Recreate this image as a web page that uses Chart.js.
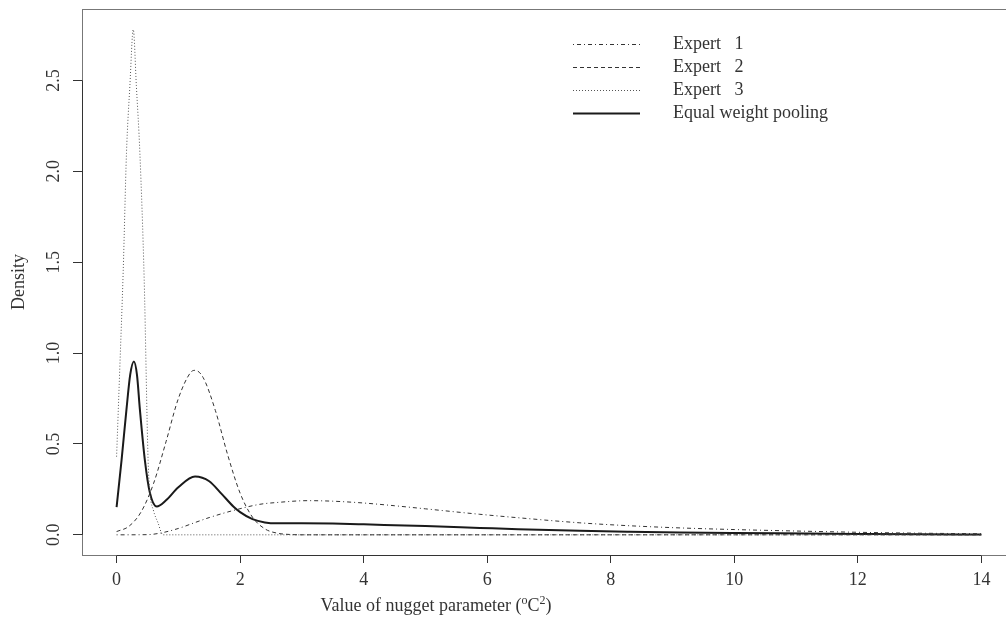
<!DOCTYPE html>
<html>
<head>
<meta charset="utf-8">
<title>Nugget parameter densities</title>
<script src="https://cdn.jsdelivr.net/npm/chart.js@4.4.1/dist/chart.umd.min.js"></script>
<style>
  html, body { margin: 0; padding: 0; background: #fff; overflow: hidden; }
  #wrap { width: 1006px; height: 628px; overflow: hidden; }
</style>
</head>
<body>
<div id="wrap">
  <canvas id="densityChart" width="1040" height="628"></canvas>
</div>
<script>
// Axis ticks
const xTicks = [0, 2, 4, 6, 8, 10, 12, 14];
const yTicks = [0, 0.5, 1, 1.5, 2, 2.5];

// Expert 1 (dot-dash)
const expert1X = [0, 0.5, 0.7, 1.0, 1.24, 1.5, 1.89, 2.32, 2.6, 3.1, 3.5, 4.0, 4.5, 5.0, 5.88, 6.5, 7.5, 8.3, 9.12, 10.0, 10.73, 12, 13, 14];
const expert1Y = [0, 0.001, 0.009, 0.035, 0.064, 0.095, 0.134, 0.168, 0.178, 0.188, 0.185, 0.175, 0.160, 0.143, 0.113, 0.094, 0.066, 0.050, 0.038, 0.029, 0.023, 0.014, 0.009, 0.006];

// Expert 2 (dashed)
const expert2X = [0, 0.2, 0.4, 0.6, 0.8, 1.0, 1.2, 1.27, 1.4, 1.6, 1.8, 2.0, 2.2, 2.4, 2.6, 2.8, 3.0, 4, 6, 8, 10, 12, 14];
const expert2Y = [0.018, 0.047, 0.128, 0.284, 0.512, 0.750, 0.894, 0.905, 0.866, 0.683, 0.438, 0.229, 0.097, 0.033, 0.009, 0.002, 0, 0, 0, 0, 0, 0, 0];

// Expert 3 (dotted)
const expert3X = [0, 0.05, 0.107, 0.16, 0.215, 0.27, 0.32, 0.377, 0.447, 0.51, 0.54, 0.6, 0.67, 0.75, 1, 2, 4, 6, 8, 10, 12, 14];
const expert3Y = [0.43, 0.9, 1.45, 2.10, 2.47, 2.78, 2.47, 2.10, 1.40, 0.41, 0.23, 0.13, 0.066, 0, 0, 0, 0, 0, 0, 0, 0, 0];

// Equal weight pooling (solid)
const poolX = [0, 0.08, 0.16, 0.22, 0.28, 0.33, 0.377, 0.458, 0.54, 0.65, 0.8, 1.0, 1.27, 1.5, 1.7, 1.89, 2.0, 2.2, 2.4, 2.6, 3.0, 3.5, 4.0, 4.5, 5.0, 5.88, 6.5, 7.5, 8.3, 9.12, 10.0, 10.73, 12, 13, 14];
const poolY = [0.152, 0.41, 0.69, 0.88, 0.954, 0.88, 0.69, 0.41, 0.23, 0.156, 0.19, 0.262, 0.321, 0.295, 0.225, 0.156, 0.125, 0.086, 0.068, 0.063, 0.063, 0.062, 0.058, 0.053, 0.048, 0.038, 0.031, 0.022, 0.017, 0.013, 0.010, 0.008, 0.005, 0.003, 0.002];

const seriesLabels = ['Expert   1', 'Expert   2', 'Expert   3', 'Equal weight pooling'];

const FONT = "'Liberation Serif', 'DejaVu Serif', serif";
const INK = '#333';

function pts(xs, ys) {
    return xs.map((x, i) => ({ x: x, y: ys[i] }));
}

function lineSet(label, xs, ys, dash, width, color) {
    return {
        label: label,
        data: pts(xs, ys),
        borderColor: color,
        borderWidth: width,
        borderDash: dash,
        pointRadius: 0,
        fill: false,
        cubicInterpolationMode: 'monotone'
    };
}

// R-style frame, axis segments, rotated y labels, x title and legend
const rStyle = {
    id: 'rStyle',
    afterDraw(chart) {
        const { ctx, chartArea: a, scales: { x, y } } = chart;
        ctx.save();

        // plot box
        ctx.strokeStyle = '#777';
        ctx.lineWidth = 1;
        ctx.strokeRect(a.left + 0.5, a.top + 0.5, a.right - a.left, a.bottom - a.top);

        // axis lines spanning first to last tick
        ctx.strokeStyle = INK;
        ctx.beginPath();
        ctx.moveTo(a.left + 0.5, y.getPixelForValue(yTicks[0]));
        ctx.lineTo(a.left + 0.5, y.getPixelForValue(yTicks[yTicks.length - 1]));
        ctx.moveTo(x.getPixelForValue(xTicks[0]), a.bottom + 0.5);
        ctx.lineTo(x.getPixelForValue(xTicks[xTicks.length - 1]), a.bottom + 0.5);
        ctx.stroke();

        // y tick labels, rotated like base R
        ctx.fillStyle = INK;
        ctx.font = '18px ' + FONT;
        ctx.textAlign = 'center';
        ctx.textBaseline = 'middle';
        yTicks.forEach(v => {
            ctx.save();
            ctx.translate(54, y.getPixelForValue(v));
            ctx.rotate(-Math.PI / 2);
            ctx.fillText(v.toFixed(1), 0, 0);
            ctx.restore();
        });

        // x axis title with superscripts
        const baseY = 611;
        ctx.textAlign = 'left';
        ctx.textBaseline = 'alphabetic';
        const main = 'Value of nugget parameter (';
        const sup1 = 'o', mid = 'C', sup2 = '2', end = ')';
        ctx.font = '18px ' + FONT;
        const wMain = ctx.measureText(main).width;
        const wMid = ctx.measureText(mid).width;
        const wEnd = ctx.measureText(end).width;
        ctx.font = '12px ' + FONT;
        const wS1 = ctx.measureText(sup1).width;
        const wS2 = ctx.measureText(sup2).width;
        let tx = 436 - (wMain + wS1 + wMid + wS2 + wEnd) / 2;
        ctx.font = '18px ' + FONT;
        ctx.fillText(main, tx, baseY); tx += wMain;
        ctx.font = '12px ' + FONT;
        ctx.fillText(sup1, tx, baseY - 7); tx += wS1;
        ctx.font = '18px ' + FONT;
        ctx.fillText(mid, tx, baseY); tx += wMid;
        ctx.font = '12px ' + FONT;
        ctx.fillText(sup2, tx, baseY - 7); tx += wS2;
        ctx.font = '18px ' + FONT;
        ctx.fillText(end, tx, baseY);

        // legend
        const rowY = [44, 67, 90, 113];
        ctx.textBaseline = 'middle';
        chart.data.datasets.forEach((ds, i) => {
            ctx.strokeStyle = ds.borderColor;
            ctx.lineWidth = ds.borderWidth;
            ctx.setLineDash(ds.borderDash || []);
            ctx.beginPath();
            ctx.moveTo(573, rowY[i] + 0.5);
            ctx.lineTo(640, rowY[i] + 0.5);
            ctx.stroke();
            ctx.setLineDash([]);
            ctx.fillStyle = INK;
            ctx.font = '18px ' + FONT;
            ctx.fillText(ds.label, 673, rowY[i]);
        });

        ctx.restore();
    }
};

new Chart(document.getElementById('densityChart'), {
    type: 'line',
    data: {
        datasets: [
            lineSet(seriesLabels[0], expert1X, expert1Y, [1, 3, 4, 3], 1, '#333'),
            lineSet(seriesLabels[1], expert2X, expert2Y, [4, 3], 1, '#333'),
            lineSet(seriesLabels[2], expert3X, expert3Y, [1, 2], 1, '#555'),
            lineSet(seriesLabels[3], poolX, poolY, [], 2, '#1a1a1a')
        ]
    },
    options: {
        responsive: false,
        animation: false,
        events: [],
        layout: { padding: { top: 9, right: 24, left: 0, bottom: 0 } },
        plugins: {
            legend: { display: false },
            tooltip: { enabled: false }
        },
        scales: {
            x: {
                type: 'linear',
                min: -0.56,
                max: 14.56,
                afterBuildTicks: s => { s.ticks = xTicks.map(v => ({ value: v })); },
                afterFit: s => { s.height = 73; },
                grid: { display: true, drawOnChartArea: false, drawTicks: true, tickLength: 8, color: INK },
                border: { display: false },
                ticks: { color: INK, padding: 6, maxRotation: 0, font: { family: FONT, size: 18 } }
            },
            y: {
                type: 'linear',
                min: -0.111,
                max: 2.893,
                afterBuildTicks: s => { s.ticks = yTicks.map(v => ({ value: v })); },
                afterFit: s => { s.width = 82; },
                grid: { display: true, drawOnChartArea: false, drawTicks: true, tickLength: 9, color: INK },
                border: { display: false },
                ticks: { display: false },
                title: { display: true, text: 'Density', color: INK, padding: { top: 8 }, font: { family: FONT, size: 18 } }
            }
        }
    },
    plugins: [rStyle]
});
</script>
</body>
</html>
